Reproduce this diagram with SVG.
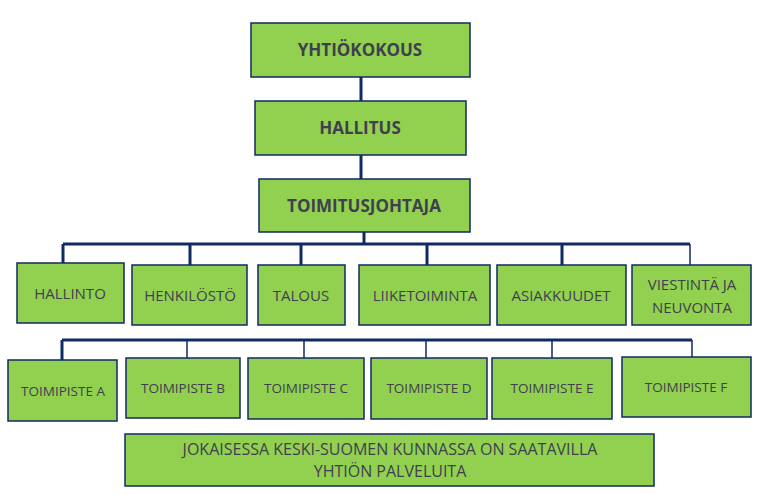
<svg xmlns="http://www.w3.org/2000/svg" width="758" height="494" viewBox="0 0 758 494">
<style>
.b{fill:#92D050;stroke:#102a66;stroke-width:1.5}
.t{font-family:"Open Sans","Liberation Sans",sans-serif;font-size:15px;fill:#3f3f4f;text-anchor:middle}
.tb{font-weight:bold;font-size:17px}
.s{font-size:13.5px}
.c{stroke:#102a66;fill:none}
</style>
<g id="connectors">
<path class="c" stroke-width="3" d="M361 77V101M361 155V179M364 232V244"/>
<path class="c" stroke-width="3" d="M63 244H690M63 244V263M190 244V265M301 244V265M427 244V265M562 244V265"/>
<path class="c" stroke-width="1.5" d="M690 244V265"/>
<path class="c" stroke-width="3" d="M62 340H692M62 340V360"/>
<path class="c" stroke-width="1.5" d="M187 340V358M304 340V358M426 340V358M552 340V358M692 340V357"/>
</g>
<g id="yhtiokokous"><rect class="b" x="251" y="23" width="219" height="54"/><text class="t tb" x="360" y="56">YHTIÖKOKOUS</text></g>
<g id="hallitus"><rect class="b" x="255" y="101" width="211" height="54"/><text class="t tb" x="360" y="134">HALLITUS</text></g>
<g id="toimitusjohtaja"><rect class="b" x="259" y="179" width="211" height="53"/><text class="t tb" x="364" y="212">TOIMITUSJOHTAJA</text></g>
<g id="hallinto"><rect class="b" x="17" y="263" width="107" height="60"/><text class="t" x="70" y="299">HALLINTO</text></g>
<g id="henkilosto"><rect class="b" x="132" y="265" width="115" height="60"/><text class="t" x="190" y="301">HENKILÖSTÖ</text></g>
<g id="talous"><rect class="b" x="258" y="265" width="87" height="60"/><text class="t" x="301" y="301">TALOUS</text></g>
<g id="liiketoiminta"><rect class="b" x="359" y="265" width="131" height="60"/><text class="t" x="425" y="301">LIIKETOIMINTA</text></g>
<g id="asiakkuudet"><rect class="b" x="497" y="265" width="129" height="60"/><text class="t" x="561" y="301">ASIAKKUUDET</text></g>
<g id="viestinta"><rect class="b" x="632" y="265" width="119" height="60"/><text class="t" x="692" y="290">VIESTINTÄ JA</text><text class="t" x="692" y="313">NEUVONTA</text></g>
<g id="toimipiste-a"><rect class="b" x="8" y="360" width="109" height="61"/><text class="t s" x="63" y="396">TOIMIPISTE A</text></g>
<g id="toimipiste-b"><rect class="b" x="126" y="358" width="114" height="60"/><text class="t s" x="183" y="393">TOIMIPISTE B</text></g>
<g id="toimipiste-c"><rect class="b" x="248" y="358" width="116" height="61"/><text class="t s" x="306" y="393">TOIMIPISTE C</text></g>
<g id="toimipiste-d"><rect class="b" x="371" y="358" width="116" height="61"/><text class="t s" x="429" y="393">TOIMIPISTE D</text></g>
<g id="toimipiste-e"><rect class="b" x="492" y="358" width="120" height="61"/><text class="t s" x="552" y="393">TOIMIPISTE E</text></g>
<g id="toimipiste-f"><rect class="b" x="622" y="357" width="129" height="60"/><text class="t s" x="686" y="392">TOIMIPISTE F</text></g>
<g id="note"><rect class="b" x="125" y="434" width="529" height="52"/><text class="t" x="390" y="455" style="font-size:16px">JOKAISESSA KESKI-SUOMEN KUNNASSA ON SAATAVILLA</text><text class="t" x="390" y="477" style="font-size:16px">YHTIÖN PALVELUITA</text></g>
</svg>
